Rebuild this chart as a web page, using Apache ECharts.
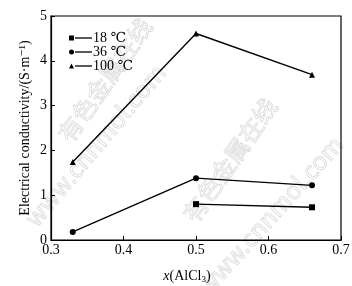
<!DOCTYPE html>
<html>
<head>
<meta charset="utf-8">
<script src="https://cdn.jsdelivr.net/npm/echarts@6/dist/echarts.min.js"></script>
<style>html,body{margin:0;padding:0;background:#fff}#c{width:352px;height:286px}</style>
</head>
<body>
<div id="c"></div>
<script>
// Data
const seriesNames = ['18 \u2103', '36 \u2103', '100 \u2103'];
const x18 = [0.5, 0.66];
const y18 = [0.80, 0.73];
const x36 = [0.33, 0.5, 0.66];
const y36 = [0.18, 1.38, 1.22];
const x100 = [0.33, 0.5, 0.66];
const y100 = [1.74, 4.61, 3.69];
const xTicks = [0.3, 0.4, 0.5, 0.6, 0.7];
const yTicks = [0, 1, 2, 3, 4, 5];

const zip = (xs, ys) => xs.map((x, i) => [x, ys[i]]);
const FONT = '"Liberation Serif", "DejaVu Serif", serif';

const chart = echarts.init(document.getElementById('c'), null, {renderer: 'canvas'});
const lineStyle = {color: '#000', width: 1.4};
function mk(name, data, symbol, size) {
  return {
    name: name, type: 'line', data: data, symbol: symbol, symbolSize: size,
    lineStyle: lineStyle, itemStyle: {color: '#000'}, animation: false
  };
}
const wm = (text, x, y, rot, size) => ({
  type: 'text', x: x, y: y, rotation: rot * Math.PI / 180, z: -10, silent: true,
  style: {text: text, fill: 'rgba(0,0,0,0)', stroke: '#d9d9d9', lineWidth: 0.8,
    font: 'normal ' + size + 'px "Noto Sans CJK SC", "DejaVu Sans", sans-serif',
    align: 'center', verticalAlign: 'middle'}
});
chart.setOption({
  backgroundColor: '#fff',
  animation: false,
  textStyle: {fontFamily: FONT, color: '#000'},
  grid: {left: 51, right: 11, top: 16, bottom: 46, containLabel: false, outerBoundsMode: 'none',
    show: true, borderColor: '#000', borderWidth: 1.2, backgroundColor: 'transparent'},
  legend: {
    left: 64, top: 26, orient: 'vertical', itemWidth: 5, itemHeight: 5, itemGap: 0,
    selectedMode: false,
    formatter: name => '{l|}{t|' + name + '}',
    textStyle: {fontFamily: FONT, fontSize: 14, color: '#000', lineHeight: 13,
      rich: {
        l: {width: 17, height: 1.3, backgroundColor: '#000', padding: [0, 0, 0, 0]},
        t: {fontFamily: FONT, fontSize: 14, color: '#000', lineHeight: 13, padding: [0, 0, 0, 1]}
      },
      padding: [0, 0, 0, -4]},
    data: [
      {name: seriesNames[0], icon: 'rect'},
      {name: seriesNames[1], icon: 'circle'},
      {name: seriesNames[2], icon: 'triangle'}
    ]
  },
  xAxis: {
    type: 'value', min: xTicks[0], max: xTicks[xTicks.length - 1], interval: 0.1,
    axisLine: {lineStyle: {color: '#000', width: 1.2}},
    axisTick: {inside: true, length: 4, lineStyle: {color: '#000'}},
    splitLine: {show: false},
    axisLabel: {fontFamily: FONT, fontSize: 14, color: '#000', margin: 3, formatter: v => v.toFixed(1)},
    name: '{i|x}(AlCl{s|3})', nameLocation: 'middle', nameGap: 29,
    nameTextStyle: {fontFamily: FONT, fontSize: 14, color: '#000', padding: [0, 18, 0, 0],
      rich: {i: {fontFamily: FONT, fontStyle: 'italic', fontSize: 14}, s: {fontFamily: FONT, fontSize: 9, verticalAlign: 'bottom', padding: [6, 0, 0, 0]}}}
  },
  yAxis: {
    type: 'value', min: yTicks[0], max: yTicks[yTicks.length - 1], interval: 1,
    axisLine: {show: true, lineStyle: {color: '#000', width: 1.2}},
    axisTick: {show: true, inside: true, length: 4, lineStyle: {color: '#000'}},
    splitLine: {show: false},
    axisLabel: {fontFamily: FONT, fontSize: 14, color: '#000', margin: 4},
    name: 'Electrical conductivity/(S\u00b7m\u207b\u00b9)', nameLocation: 'middle', nameGap: 19,
    nameMoveOverlap: false,
    nameTextStyle: {fontFamily: FONT, fontSize: 14, color: '#000'}
  },
  graphic: [
    wm('有色金属在线', 105, 80, 55, 24),
    wm('www.cnnmol.com', 95, 145, 50, 24),
    wm('有色金属在线', 230, 160, 55, 24),
    wm('www.cnnmol.com', 270, 215, 48, 24)
  ],
  series: [
    mk(seriesNames[0], zip(x18, y18), 'rect', 6),
    mk(seriesNames[1], zip(x36, y36), 'circle', 6),
    mk(seriesNames[2], zip(x100, y100), 'triangle', 6)
  ]
});
</script>
</body>
</html>
